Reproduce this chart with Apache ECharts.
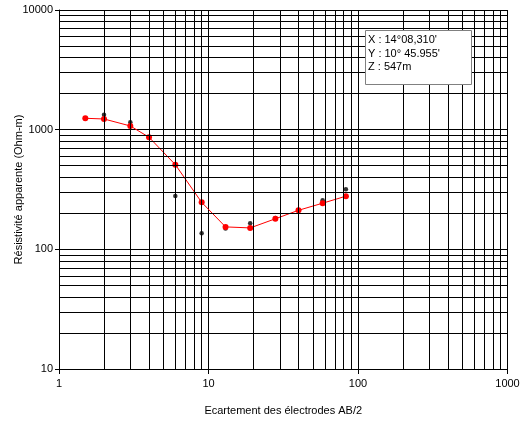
<!DOCTYPE html>
<html><head><meta charset="utf-8">
<script src="https://cdn.jsdelivr.net/npm/echarts@6/dist/echarts.min.js"></script>
<style>html,body{margin:0;padding:0;background:#fff}#c{width:528px;height:424px}</style>
</head><body><div id="c"></div>
<script>
// AB/2 spacings (m)
const abHalf = [1.5, 2, 3, 4, 6, 9, 13, 19, 28, 40, 58, 83];
// Fitted apparent resistivity curve (Ohm-m)
const fitRho = [1245, 1228, 1074, 864, 510, 247, 154, 151, 180, 212, 243, 278];
// Measured points
const measX = [2, 3, 4, 6, 9, 13, 19, 28, 40, 58, 83];
const measRho = [1331, 1155, 864, 279, 136, 149, 165, 183, 212, 257, 317];
// Axis tick labels
const xTicks = [1, 10, 100, 1000];
const yTicks = [10, 100, 1000, 10000];
// Minor grid multipliers
const minorMult = [2, 3, 4, 5, 6, 7, 8, 9];
const infoLines = ["X : 14°08,310'", "Y : 10° 45.955'", "Z : 547m"];

const font = 'Liberation Sans, Arial, sans-serif';
const minorX = [], minorY = [];
[1, 10, 100].forEach(d => minorMult.forEach(m => minorX.push(d * m)));
[10, 100, 1000].forEach(d => minorMult.forEach(m => minorY.push(d * m)));

const chart = echarts.init(document.getElementById('c'), null, {renderer: 'canvas'});
chart.setOption({
  animation: false,
  backgroundColor: '#fff',
  grid: {left: 59, right: 20.5, top: 10, bottom: 55, containLabel: false, outerBoundsMode: 'none'},
  xAxis: {
    type: 'log', logBase: 10, min: xTicks[0], max: xTicks[xTicks.length - 1],
    name: 'Ecartement des électrodes AB/2', nameLocation: 'middle', nameGap: 36, nameMoveOverlap: false,
    nameTextStyle: {fontFamily: font, fontSize: 11, color: '#000'},
    axisLine: {show: true, lineStyle: {color: '#000', width: 1}},
    axisTick: {show: true, inside: false, length: 5, lineStyle: {color: '#000'}},
    axisLabel: {fontFamily: font, fontSize: 11, color: '#000', margin: 9, formatter: v => String(v)},
    splitLine: {show: true, lineStyle: {color: '#000', width: 1}}
  },
  yAxis: {
    type: 'log', logBase: 10, min: yTicks[0], max: yTicks[yTicks.length - 1],
    name: 'Résistivité apparente (Ohm-m)', nameLocation: 'middle', nameGap: 35, nameMoveOverlap: false,
    nameTextStyle: {fontFamily: font, fontSize: 11, color: '#000'},
    axisLine: {show: true, lineStyle: {color: '#000', width: 1}},
    axisTick: {show: true, inside: false, length: 4, lineStyle: {color: '#000'}},
    axisLabel: {fontFamily: font, fontSize: 11, color: '#000', margin: 6, formatter: v => String(v)},
    splitLine: {show: true, lineStyle: {color: '#000', width: 1}}
  },
  graphic: [
    {type: 'rect', shape: {x: 365.5, y: 30.5, width: 106, height: 54},
     style: {fill: '#fff', stroke: '#808080', lineWidth: 1}, z: 100},
    ...infoLines.map((t, i) => ({
      type: 'text', x: 368, y: 40 + i * 13.5, z: 101,
      style: {text: t, fontFamily: font, fontSize: 11, fill: '#000', verticalAlign: 'middle'}
    }))
  ],
  series: [
    {
      name: 'grid', type: 'line', data: [], silent: true,
      markLine: {
        silent: true, symbol: 'none', label: {show: false},
        lineStyle: {color: '#000', width: 1, type: 'solid'},
        data: minorX.map(v => ({xAxis: v})).concat(minorY.map(v => ({yAxis: v})))
      }
    },
    {
      name: 'mesures', type: 'scatter', z: 3,
      data: measX.map((x, i) => [x, measRho[i]]),
      symbol: 'circle', symbolSize: 4.5,
      itemStyle: {color: '#000'}
    },
    {
      name: 'modele', type: 'line', z: 4,
      data: abHalf.map((x, i) => [x, fitRho[i]]),
      symbol: 'circle', symbolSize: 6, showSymbol: true,
      lineStyle: {color: '#ff0000', width: 1},
      itemStyle: {color: '#ff0000'}
    }
  ]
});
</script></body></html>
